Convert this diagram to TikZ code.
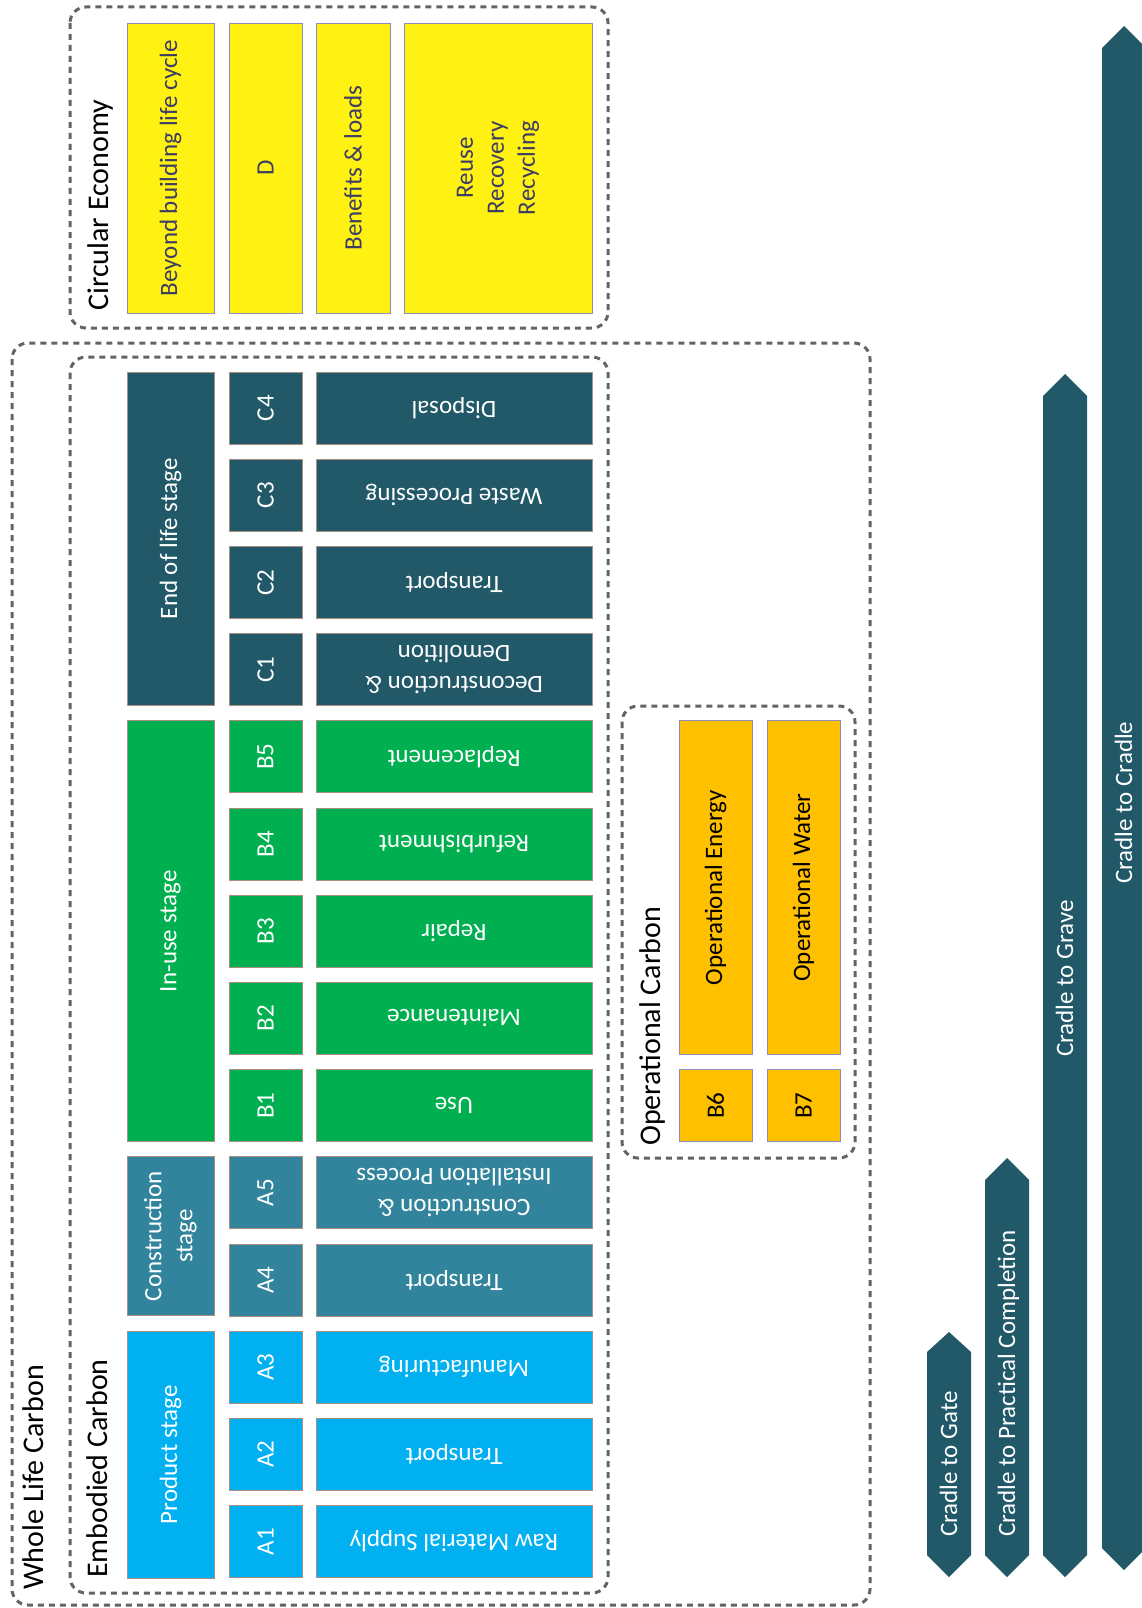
\documentclass[tikz,border=0pt]{standalone}
\usepackage{fontspec}
\setmainfont{Carlito}
\definecolor{prodblue}{HTML}{00B0F0}
\definecolor{consteal}{HTML}{31849B}
\definecolor{usegreen}{HTML}{00B050}
\definecolor{eoldark}{HTML}{215968}
\definecolor{operorange}{HTML}{FFC000}
\definecolor{circyellow}{HTML}{FFF212}
\definecolor{framegray}{HTML}{646464}
\definecolor{cellrim}{HTML}{A98E82}
\definecolor{warmrim}{HTML}{8C8CC0}
\definecolor{yellowtext}{HTML}{3C3C64}

\begin{document}
\begin{tikzpicture}[x=1pt, y=-1pt,
    every node/.style={inner sep=0pt, align=center, font=\fontsize{25}{31}\selectfont},
    cell/.style={draw=cellrim, line width=0.8pt, fill=#1, text=white},
    stagebox/.style={cell=#1, rotate=90, minimum height=87},
    codebox/.style={cell=#1, rotate=90, minimum width=72, minimum height=73},
    descbox/.style={cell=#1, rotate=180, minimum width=276, minimum height=72},
    warmbox/.style={draw=warmrim, line width=0.8pt, fill=#1, rotate=90},
    title/.style={rotate=90, anchor=base west, font=\fontsize{30}{36}\selectfont},
    dashframe/.style={draw=framegray, line width=3pt, dash pattern=on 6pt off 5pt, rounded corners=16pt},
    cradle/.style={fill=eoldark},
    cradletext/.style={rotate=90, anchor=base west, text=white}]
        \useasboundingbox (0,0) rectangle (1141,1608);

        % dashed groups
        \draw[dashframe] (12,343) rectangle (870,1605);
        \draw[dashframe] (70,357) rectangle (608,1593);
        \draw[dashframe] (70,7) rectangle (608,328);
        \draw[dashframe] (622,706) rectangle (855,1158);

        \node[title] (wlc) at (43,1590) {Whole Life Carbon};
        \node[title] (emb) at (107,1578) {Embodied Carbon};
        \node[title] (circ) at (108,311) {Circular Economy};
        \node[title] (oper) at (660,1146) {Operational Carbon};

        % stages
        \node[stagebox=eoldark, minimum width=333.6] (eol) at (170.5,538.8) {End of life stage};
        \node[stagebox=usegreen, minimum width=420.8] (use) at (170.5,931.2) {In-use stage};
        \node[stagebox=consteal, minimum width=158.4] (con) at (170.5,1236) {Construction\\stage};
        \node[stagebox=prodblue, minimum width=246.8] (prod) at (170.5,1454.6) {Product stage};

        % modules
        \node[codebox=eoldark] (c4) at (265.5,408) {C4};
        \node[codebox=eoldark] (c3) at (265.5,495.2) {C3};
        \node[codebox=eoldark] (c2) at (265.5,582.4) {C2};
        \node[codebox=eoldark] (c1) at (265.5,669.6) {C1};
        \node[codebox=usegreen] (b5) at (265.5,756.8) {B5};
        \node[codebox=usegreen] (b4) at (265.5,844) {B4};
        \node[codebox=usegreen] (b3) at (265.5,931.2) {B3};
        \node[codebox=usegreen] (b2) at (265.5,1018.4) {B2};
        \node[codebox=usegreen] (b1) at (265.5,1105.6) {B1};
        \node[codebox=consteal] (a5) at (265.5,1192.8) {A5};
        \node[codebox=consteal] (a4) at (265.5,1280) {A4};
        \node[codebox=prodblue] (a3) at (265.5,1367.2) {A3};
        \node[codebox=prodblue] (a2) at (265.5,1454.4) {A2};
        \node[codebox=prodblue] (a1) at (265.5,1541.6) {A1};

        \node[descbox=eoldark] (c4d) at (454,408) {Disposal};
        \node[descbox=eoldark] (c3d) at (454,495.2) {Waste Processing};
        \node[descbox=eoldark] (c2d) at (454,582.4) {Transport};
        \node[descbox=eoldark] (c1d) at (454,669.6) {Deconstruction \&\\Demolition};
        \node[descbox=usegreen] (b5d) at (454,756.8) {Replacement};
        \node[descbox=usegreen] (b4d) at (454,844) {Refurbishment};
        \node[descbox=usegreen] (b3d) at (454,931.2) {Repair};
        \node[descbox=usegreen] (b2d) at (454,1018.4) {Maintenance};
        \node[descbox=usegreen] (b1d) at (454,1105.6) {Use};
        \node[descbox=consteal] (a5d) at (454,1192.8) {Construction \&\\Installation Process};
        \node[descbox=consteal] (a4d) at (454,1280) {Transport};
        \node[descbox=prodblue] (a3d) at (454,1367.2) {Manufacturing};
        \node[descbox=prodblue] (a2d) at (454,1454.4) {Transport};
        \node[descbox=prodblue] (a1d) at (454,1541.6) {Raw Material Supply};

        % operational
        \node[warmbox=operorange, minimum width=333.6, minimum height=73] (b6d) at (715.5,887.6) {Operational Energy};
        \node[warmbox=operorange, minimum width=333.6, minimum height=73] (b7d) at (803.5,887.6) {Operational Water};
        \node[warmbox=operorange, minimum width=72, minimum height=73] (b6) at (715.5,1105.6) {B6};
        \node[warmbox=operorange, minimum width=72, minimum height=73] (b7) at (803.5,1105.6) {B7};

        % circular economy
        \node[warmbox=circyellow, text=yellowtext, minimum width=290, minimum height=87] (beyond) at (170.5,168) {Beyond building life cycle};
        \node[warmbox=circyellow, text=yellowtext, minimum width=290, minimum height=73] (d) at (265.5,168) {D};
        \node[warmbox=circyellow, text=yellowtext, minimum width=290, minimum height=74] (loads) at (353,168) {Benefits \& loads};
        \node[warmbox=circyellow, text=yellowtext, minimum width=290, minimum height=188] (reuse) at (498,168) {Reuse\\Recovery\\Recycling};

        % scopes
        \fill[cradle] (927,1352) -- (949,1332) -- (971,1352) -- (971,1555) -- (949,1577) -- (927,1555) -- cycle;
        \fill[cradle] (985,1180) -- (1007,1158) -- (1029,1180) -- (1029,1555) -- (1007,1577) -- (985,1555) -- cycle;
        \fill[cradle] (1043,396) -- (1065,374) -- (1087,396) -- (1087,1555) -- (1065,1577) -- (1043,1555) -- cycle;
        \fill[cradle] (1102,48) -- (1124,26) -- (1146,48) -- (1146,1548) -- (1124,1570) -- (1102,1548) -- cycle;
        \node[cradletext] (gate) at (957,1537) {Cradle to Gate};
        \node[cradletext] (pc) at (1015,1537) {Cradle to Practical Completion};
        \node[cradletext] (grave) at (1073,1057) {Cradle to Grave};
        \node[cradletext] (c2c) at (1132,884) {Cradle to Cradle};
    \end{tikzpicture}
\end{document}
